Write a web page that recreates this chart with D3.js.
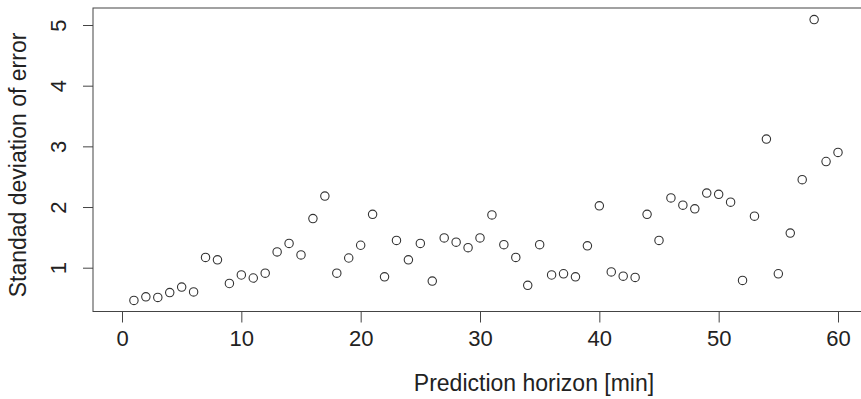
<!DOCTYPE html>
<html>
  <head>
    <style>
      body {
        margin: 0;
        background: #fff;
      }
      svg text {
        font-family: "Liberation Sans", Arial, sans-serif;
        fill: #222;
      }
    </style>
    <script src="https://d3js.org/d3.v7.min.js"></script>
  </head>
  <body>
    <script>
      // prediction horizon in minutes, 1..60
      const horizon = [
        1, 2, 3, 4, 5, 6, 7, 8, 9, 10, 11, 12, 13, 14, 15, 16, 17, 18, 19, 20,
        21, 22, 23, 24, 25, 26, 27, 28, 29, 30, 31, 32, 33, 34, 35, 36, 37, 38,
        39, 40, 41, 42, 43, 44, 45, 46, 47, 48, 49, 50, 51, 52, 53, 54, 55, 56,
        57, 58, 59, 60,
      ];
      // standard deviation of error
      const sdError = [
        0.46, 0.52, 0.51, 0.59, 0.68, 0.6, 1.17, 1.13, 0.74, 0.88, 0.83, 0.91,
        1.26, 1.4, 1.21, 1.81, 2.18, 0.91, 1.16, 1.37, 1.88, 0.85, 1.45, 1.13,
        1.4, 0.78, 1.49, 1.42, 1.33, 1.49, 1.87, 1.38, 1.17, 0.71, 1.38, 0.88,
        0.9, 0.85, 1.36, 2.02, 0.93, 0.86, 0.84, 1.88, 1.45, 2.15, 2.03, 1.97,
        2.23, 2.21, 2.08, 0.79, 1.85, 3.12, 0.9, 1.57, 2.45, 5.09, 2.75, 2.9,
      ];
      const xTicks = [0, 10, 20, 30, 40, 50, 60];
      const yTicks = [1, 2, 3, 4, 5];

      const width = 861;
      const height = 399;

      const box = { left: 93, right: 863, top: 8, bottom: 311.5 };

      const svg = d3
        .select("body")
        .append("svg")
        .attr("width", width)
        .attr("height", height);

      const xScale = d3.scaleLinear().domain([0, 60]).range([122, 838]);
      const yScale = d3.scaleLinear().domain([1, 5]).range([267.7, 25]);

      // plot frame
      svg
        .append("rect")
        .attr("x", box.left)
        .attr("y", box.top)
        .attr("width", box.right - box.left)
        .attr("height", box.bottom - box.top)
        .attr("fill", "none")
        .attr("stroke", "#444")
        .attr("stroke-width", 1);

      const xAxis = d3
        .axisBottom(xScale)
        .tickValues(xTicks)
        .tickSize(11)
        .tickPadding(8)
        .tickFormat(d3.format("d"));

      const gx = svg
        .append("g")
        .attr("transform", "translate(0," + box.bottom + ")")
        .call(xAxis);
      gx.select(".domain").remove();
      gx.selectAll("line").attr("stroke", "#444");
      gx.selectAll("text")
        .style("font-size", "22px")
        .attr("fill", "#222")
        .attr("font-family", "Liberation Sans, Arial, sans-serif");

      const yAxis = d3
        .axisLeft(yScale)
        .tickValues(yTicks)
        .tickSize(10)
        .tickFormat(d3.format("d"));

      const gy = svg
        .append("g")
        .attr("transform", "translate(" + box.left + ",0)")
        .call(yAxis);
      gy.select(".domain").remove();
      gy.selectAll("line").attr("stroke", "#444");
      gy.selectAll("text")
        .style("font-size", "22px")
        .attr("fill", "#222")
        .attr("font-family", "Liberation Sans, Arial, sans-serif")
        .attr("x", null)
        .attr("dy", null)
        .attr("text-anchor", "middle")
        .attr("transform", "translate(-27,0) rotate(-90)");

      svg
        .append("g")
        .selectAll("circle")
        .data(horizon)
        .enter()
        .append("circle")
        .attr("cx", (d) => xScale(d))
        .attr("cy", (d, i) => yScale(sdError[i]))
        .attr("r", 4.2)
        .attr("fill", "none")
        .attr("stroke", "#333")
        .attr("stroke-width", 1.1);

      svg
        .append("text")
        .attr("x", 534)
        .attr("y", 391)
        .attr("text-anchor", "middle")
        .style("font-size", "23px")
        .text("Prediction horizon [min]");

      svg
        .append("text")
        .attr("transform", "translate(26,165) rotate(-90)")
        .attr("text-anchor", "middle")
        .style("font-size", "23px")
        .text("Standad deviation of error");
    </script>
  </body>
</html>
